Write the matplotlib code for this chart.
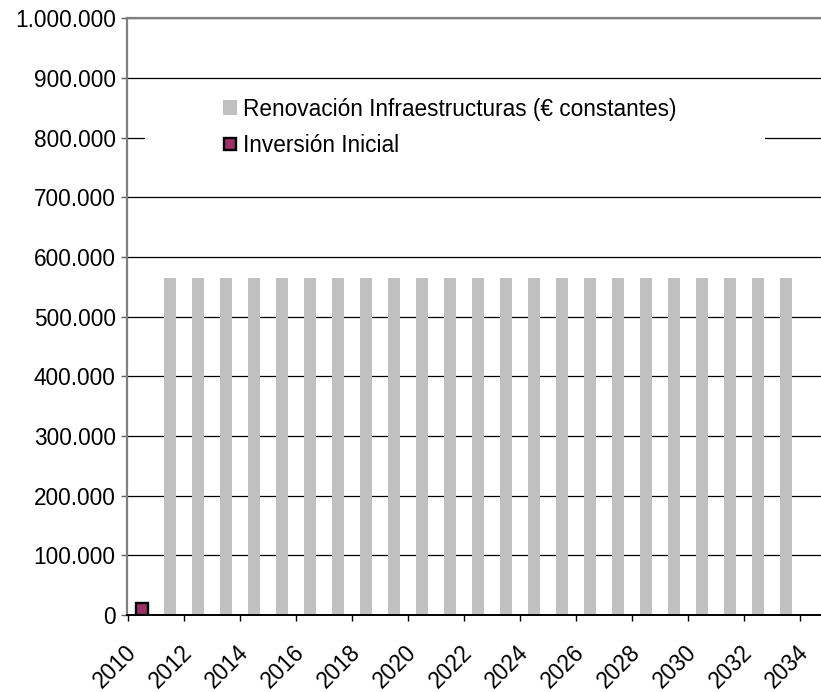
import matplotlib.pyplot as plt
import matplotlib.patches as mpatches
from matplotlib.ticker import FuncFormatter, MultipleLocator
from matplotlib.transforms import ScaledTranslation

# datos
years_renov = list(range(2011, 2034))
renov = [565000] * len(years_renov)
year_inicial = [2010]
inversion_inicial = [10000]
label_renov = 'Renovación Infraestructuras (€ constantes)'
label_inic = 'Inversión Inicial'

plt.rcParams['font.family'] = ['Liberation Sans', 'DejaVu Sans']
fs = 16.3

fig = plt.figure(figsize=(8.21, 6.92), dpi=100)
ax = fig.add_axes([0.1543, 0.1113, 0.8457, 0.862])

# barras centradas a mitad de año
b = ax.bar([y + 0.5 for y in years_renov], renov, width=0.43, color='#C0C0C0',
           label=label_renov, zorder=2)
m, = ax.plot([y + 0.5 for y in year_inicial], inversion_inicial, linestyle='none',
             marker='s', markersize=9, markerfacecolor='#993366',
             markeredgecolor='black', markeredgewidth=1.7, label=label_inic, zorder=4)

ax.set_xlim(2009.95, 2034.75)
ax.set_ylim(0, 1000000)
ax.xaxis.set_major_locator(MultipleLocator(2))
ax.yaxis.set_major_locator(MultipleLocator(100000))
ax.yaxis.set_major_formatter(FuncFormatter(lambda v, p: f'{int(v):,}'.replace(',', '.')))

ax.set_axisbelow(True)
ax.yaxis.grid(True, color='black', linewidth=0.9)

ax.spines['right'].set_visible(False)
ax.spines['top'].set_color('#808080')
ax.spines['top'].set_linewidth(1.6)
ax.spines['left'].set_color('#808080')
ax.spines['left'].set_linewidth(1.6)
ax.spines['bottom'].set_color('black')
ax.spines['bottom'].set_linewidth(1.4)

ax.tick_params(axis='y', length=4.3, width=1, pad=3.6, labelsize=fs, color='#606060')
ax.tick_params(axis='x', length=4.3, width=1, pad=20, labelsize=fs)
shift = ScaledTranslation(0.05, 0, fig.dpi_scale_trans)
for lbl in ax.get_xticklabels():
    lbl.set_rotation(45)
    lbl.set_ha('right')
    lbl.set_va('center')
    lbl.set_rotation_mode('anchor')
    lbl.set_transform(lbl.get_transform() + shift)

# fondo blanco de la leyenda (tapa la rejilla)
ax.add_patch(mpatches.Rectangle((0.026, 0.754), 0.893, 0.126, transform=ax.transAxes,
                                facecolor='white', edgecolor='none', zorder=1.5))

leg = fig.legend([b, m], [label_renov, label_inic], loc='upper left',
                 bbox_to_anchor=(0.2716, 0.859), frameon=False,
                 fontsize=fs, borderpad=0, borderaxespad=0, handlelength=0.62,
                 handleheight=0.62, handletextpad=0.27, labelspacing=0.58)

plt.savefig('out.png', dpi=100)
